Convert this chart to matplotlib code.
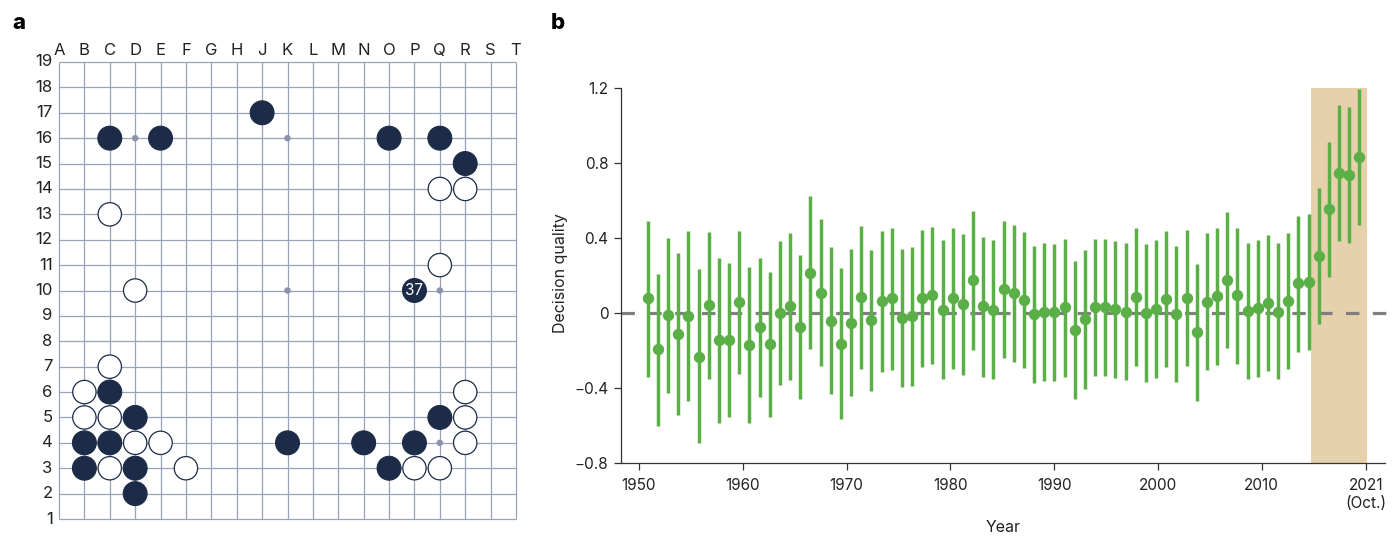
import numpy as np
import matplotlib
matplotlib.use("Agg")
import matplotlib.pyplot as plt
from matplotlib.patches import Circle

plt.rcParams['font.family'] = ['Inter', 'DejaVu Sans']

# ---------------- data: panel a (Go board) ----------------
col_letters = ['A', 'B', 'C', 'D', 'E', 'F', 'G', 'H', 'J', 'K',
               'L', 'M', 'N', 'O', 'P', 'Q', 'R', 'S', 'T']
row_numbers = list(range(1, 20))
black_stones = ['C16', 'E16', 'J17', 'O16', 'Q16', 'R15', 'P10',
                'C6', 'D5', 'B4', 'C4', 'B3', 'D3', 'D2',
                'K4', 'N4', 'P4', 'O3', 'Q5']
white_stones = ['C13', 'D10', 'Q14', 'R14', 'Q11', 'C7', 'B6', 'B5', 'C5',
                'D4', 'E4', 'F3', 'C3', 'R6', 'R5', 'R4', 'P3', 'Q3']
star_points = ['D16', 'K16', 'Q16', 'D10', 'K10', 'Q10', 'D4', 'K4', 'Q4']
numbered_stone = ('P10', '37')

# ---------------- data: panel b ----------------
quality = [0.078, -0.194, -0.011, -0.112, -0.014, -0.233, 0.041, -0.146, -0.142, 0.057,
           -0.172, -0.073, -0.167, 0.002, 0.037, -0.073, 0.215, 0.108, -0.043, -0.164,
           -0.052, 0.084, -0.037, 0.062, 0.078, -0.028, -0.016, 0.082, 0.098, 0.018,
           0.082, 0.048, 0.176, 0.037, 0.018, 0.128, 0.105, 0.069, -0.007, 0.004,
           0.004, 0.030, -0.091, -0.034, 0.034, 0.034, 0.020, 0.007, 0.087, -0.002,
           0.020, 0.073, -0.007, 0.082, -0.103, 0.060, 0.091, 0.178, 0.094, 0.012,
           0.025, 0.052, 0.007, 0.064, 0.158, 0.165, 0.304, 0.555, 0.748, 0.734, 0.834]
upper = [0.49, 0.21, 0.40, 0.32, 0.44, 0.233, 0.434, 0.295, 0.268, 0.44, 0.244, 0.295,
         0.217, 0.386, 0.425, 0.309, 0.624, 0.50, 0.35, 0.242, 0.341, 0.466, 0.338, 0.44, 0.455,
         0.34, 0.35, 0.443, 0.46, 0.389, 0.452, 0.42, 0.544, 0.407, 0.389, 0.49, 0.469, 0.434,
         0.359, 0.372, 0.368, 0.395, 0.277, 0.336, 0.395, 0.395, 0.386, 0.375, 0.453, 0.366,
         0.389, 0.437, 0.357, 0.443, 0.261, 0.425, 0.452, 0.539, 0.453, 0.375, 0.389, 0.414, 0.375,
         0.425, 0.519, 0.526, 0.665, 0.914, 1.109, 1.097, 1.193]
lower = [-0.34, -0.60, -0.425, -0.546, -0.47, -0.695, -0.354, -0.585, -0.553, -0.327, -0.588, -0.446,
         -0.555, -0.384, -0.356, -0.457, -0.194, -0.281, -0.434, -0.567, -0.443, -0.30, -0.414, -0.316, -0.304,
         -0.396, -0.389, -0.286, -0.272, -0.354, -0.297, -0.331, -0.196, -0.343, -0.352, -0.242, -0.263, -0.295,
         -0.375, -0.361, -0.361, -0.343, -0.46, -0.404, -0.336, -0.336, -0.348, -0.357, -0.283, -0.366,
         -0.348, -0.29, -0.37, -0.284, -0.468, -0.304, -0.276, -0.185, -0.272, -0.352, -0.34, -0.311, -0.352,
         -0.297, -0.206, -0.197, -0.059, 0.194, 0.386, 0.372, 0.471]
first_period = 1950.84      # position of the first period on the year axis
period_step = 0.9794        # spacing between periods on the year axis
x_ticks = [1950, 1960, 1970, 1980, 1990, 2000, 2010, 2020.04]
x_tick_labels = ['1950', '1960', '1970', '1980', '1990', '2000', '2010', '2021\n(Oct.)']
y_ticks = [-0.8, -0.4, 0, 0.4, 0.8, 1.2]
y_tick_labels = ['\u22120.8', '\u22120.4', '0', '0.4', '0.8', '1.2']
ai_era = (2014.74, 2020.14)

# ---------------- style ----------------
W, H = 1399, 536
GRID = '#9aa2b8'
STONE = '#1c2b47'
GREEN = '#5aaf47'
SPAN = '#e7d1ac'
TXT = '#222222'

fig = plt.figure(figsize=(W / 100, H / 100), dpi=100)

# ---------------- panel a ----------------
gx0, gx1, gy_top, gy_bot = 59, 516, 62, 519
axb = fig.add_axes([gx0 / W, 1 - gy_bot / H, (gx1 - gx0) / W, (gy_bot - gy_top) / H])
axb.set_xlim(0, 18)
axb.set_ylim(1, 19)
axb.axis('off')


def pos(name):
    return col_letters.index(name[0]), int(name[1:])


for i in range(19):
    axb.plot([i, i], [1, 19], color=GRID, lw=0.9, zorder=1, clip_on=False,
             solid_capstyle='butt')
    axb.plot([0, 18], [i + 1, i + 1], color=GRID, lw=0.9, zorder=1, clip_on=False,
             solid_capstyle='butt')
for s in star_points:
    cx, cy = pos(s)
    axb.add_patch(Circle((cx, cy), 0.1, color='#8a93a9', zorder=2, clip_on=False))
for s in black_stones:
    cx, cy = pos(s)
    axb.add_patch(Circle((cx, cy), 0.47, facecolor=STONE, edgecolor=STONE,
                         lw=0.8, zorder=3, clip_on=False))
for s in white_stones:
    cx, cy = pos(s)
    axb.add_patch(Circle((cx, cy), 0.46, facecolor='white', edgecolor=STONE,
                         lw=0.9, zorder=3, clip_on=False))
nx, ny = pos(numbered_stone[0])
axb.text(nx, ny, numbered_stone[1], color='white', fontsize=11,
         ha='center', va='center', zorder=4)

for i, c in enumerate(col_letters):
    axb.text(i, 19.47, c, fontsize=12, color=TXT, ha='center', va='center')
for r in row_numbers:
    axb.text(-0.25, r, str(r), fontsize=12, color=TXT, ha='right', va='center')

fig.text(12 / W, 1 - 23 / H, 'a', fontsize=16, fontweight='heavy', ha='left', va='center')
fig.text(551 / W, 1 - 23 / H, 'b', fontsize=16, fontweight='heavy', ha='left', va='center')

# ---------------- panel b ----------------
ax_l, ax_r, ax_t, ax_b = 621, 1385, 88, 463
ax = fig.add_axes([ax_l / W, 1 - ax_b / H, (ax_r - ax_l) / W, (ax_b - ax_t) / H])

q = np.array(quality)
lo = np.array(lower)
hi = np.array(upper)
x = first_period + period_step * np.arange(len(q))

ax.axvspan(ai_era[0], ai_era[1], color=SPAN, lw=0, zorder=0)
xl = (1948.27, 2021.87)
ax.plot([xl[0], 2022.3], [0, 0], color='#7f7f7f', lw=2.3, dashes=(4.2, 4.2),
        zorder=1, clip_on=False)
_, _, bars = ax.errorbar(x, q, yerr=[q - lo, hi - q], fmt='o', color=GREEN, ecolor=GREEN,
                         elinewidth=2.5, markersize=7.2, capsize=0, zorder=3)
for b in bars:
    b.set_clip_on(False)

ax.set_xlim(*xl)
ax.set_ylim(-0.8, 1.2)
ax.set_xticks(x_ticks)
ax.set_xticklabels(x_tick_labels, linespacing=1.25)
ax.set_yticks(y_ticks)
ax.set_yticklabels(y_tick_labels)
for sp in ['top', 'right']:
    ax.spines[sp].set_visible(False)
for sp in ['left', 'bottom']:
    ax.spines[sp].set_color('#333333')
    ax.spines[sp].set_linewidth(0.9)
ax.tick_params(axis='both', length=5, width=0.9, color='#333333',
               labelsize=11, labelcolor=TXT)
ax.tick_params(axis='x', pad=6)
ax.tick_params(axis='y', pad=4)

fig.text(1003 / W, 1 - 527 / H, 'Year', fontsize=11.5, color=TXT, ha='center', va='center')
fig.text(560 / W, 1 - 273 / H, 'Decision quality', fontsize=11.5, color=TXT,
         ha='center', va='center', rotation=90)

fig.savefig('out.png', dpi=100)
